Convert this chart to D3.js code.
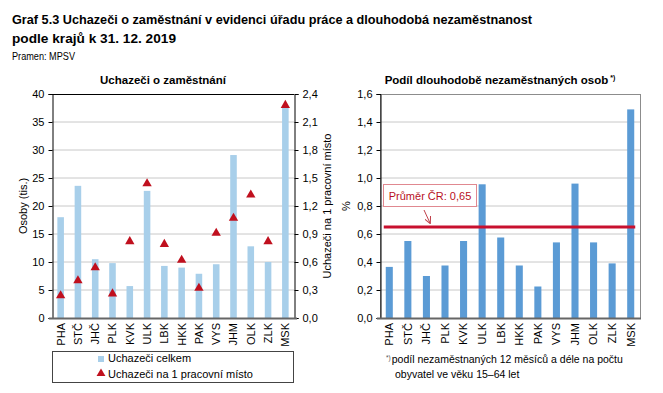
<!DOCTYPE html>
<html>
<head>
<meta charset="utf-8">
<script src="https://cdn.jsdelivr.net/npm/d3@7"></script>
<style>
  body { margin: 0; background: #fff; }
  svg { font-family: "Liberation Sans", Arial, sans-serif; }
  .tick text { font-size: 11px; fill: #000; }
</style>
</head>
<body>
<div id="chart"></div>
<script>
// regions (kraje)
var kraje = ["PHA", "STČ", "JHČ", "PLK", "KVK", "ULK", "LBK", "HKK", "PAK", "VYS", "JHM", "OLK", "ZLK", "MSK"];
// uchazeci celkem (tis.)
var uchazeci = [18.0, 23.6, 10.5, 9.8, 5.7, 22.7, 9.3, 9.0, 7.9, 9.6, 29.1, 12.8, 10.0, 37.5];
// uchazeci na 1 pracovni misto
var naMisto = [0.24, 0.40, 0.54, 0.26, 0.82, 1.44, 0.79, 0.62, 0.32, 0.91, 1.07, 1.32, 0.82, 2.28];
// podil dlouhodobe nezamestnanych (%)
var podil = [0.365, 0.55, 0.30, 0.375, 0.55, 0.955, 0.575, 0.375, 0.225, 0.54, 0.96, 0.54, 0.39, 1.49];
var prumer = 0.65;

var leftTicks = [0, 5, 10, 15, 20, 25, 30, 35, 40];
var rightTicks = [0, 0.3, 0.6, 0.9, 1.2, 1.5, 1.8, 2.1, 2.4];
var podilTicks = [0, 0.2, 0.4, 0.6, 0.8, 1.0, 1.2, 1.4, 1.6];

var width = 663, height = 393;
var comma1 = function(d) { return d3.format(".1f")(d).replace(".", ","); };

var svg = d3.select("#chart").append("svg")
  .attr("width", width)
  .attr("height", height);

// titles
svg.append("text")
  .attr("x", 12).attr("y", 24)
  .attr("font-size", 13.5).attr("font-weight", "bold")
  .attr("textLength", 520).attr("lengthAdjust", "spacingAndGlyphs")
  .text("Graf 5.3 Uchazeči o zaměstnání v evidenci úřadu práce a dlouhodobá nezaměstnanost");
svg.append("text")
  .attr("x", 12).attr("y", 43)
  .attr("font-size", 13.5).attr("font-weight", "bold")
  .attr("textLength", 164).attr("lengthAdjust", "spacingAndGlyphs")
  .text("podle krajů k 31. 12. 2019");
svg.append("text")
  .attr("x", 12).attr("y", 60)
  .attr("font-size", 10.5)
  .attr("textLength", 63).attr("lengthAdjust", "spacingAndGlyphs")
  .text("Pramen: MPSV");

// ---------- left chart ----------
var L = {left: 52, right: 294, top: 94, bottom: 318};

var x1 = d3.scaleBand().domain(kraje).range([L.left, L.right]).paddingInner(0.62).paddingOuter(0.31);
var y1 = d3.scaleLinear().domain([0, 40]).range([L.bottom, L.top]);
var y1r = d3.scaleLinear().domain([0, 2.4]).range([L.bottom, L.top]);

svg.append("text")
  .attr("x", 163).attr("y", 84)
  .attr("text-anchor", "middle")
  .attr("font-size", 11.5).attr("font-weight", "bold")
  .text("Uchazeči o zaměstnání");

var g1 = svg.append("g");

g1.selectAll(".grid")
  .data(leftTicks.filter(function(d) { return d > 0 && d < 40; }))
  .enter().append("line")
  .attr("x1", L.left).attr("x2", L.right)
  .attr("y1", function(d) { return y1(d); })
  .attr("y2", function(d) { return y1(d); })
  .attr("stroke", "#c8c8c8");

g1.selectAll(".bar")
  .data(uchazeci)
  .enter().append("rect")
  .attr("x", function(d, i) { return x1(kraje[i]); })
  .attr("width", x1.bandwidth())
  .attr("y", function(d) { return y1(d); })
  .attr("height", function(d) { return y1(0) - y1(d); })
  .attr("fill", "#a8cfea");

// plot frame
g1.append("line").attr("x1", L.left).attr("x2", L.right).attr("y1", L.top + 0.5).attr("y2", L.top + 0.5).attr("stroke", "#000");

var yAxisL = g1.append("g")
  .attr("transform", "translate(" + (L.left + 0.5) + ",0)")
  .call(d3.axisLeft(y1).tickValues(leftTicks).tickSize(4).tickPadding(4));
var yAxisR = g1.append("g")
  .attr("transform", "translate(" + (L.right + 0.5) + ",0)")
  .call(d3.axisRight(y1r).tickValues(rightTicks).tickSize(4).tickPadding(4).tickFormat(comma1));

g1.append("line").attr("x1", L.left - 3).attr("x2", L.right + 3)
  .attr("y1", L.bottom + 0.5).attr("y2", L.bottom + 0.5)
  .attr("stroke", "#666").attr("stroke-width", 2);

g1.selectAll(".tri")
  .data(naMisto)
  .enter().append("path")
  .attr("d", d3.symbol().type(d3.symbolTriangle).size(38))
  .attr("transform", function(d, i) {
    return "translate(" + (x1(kraje[i]) + x1.bandwidth() / 2) + "," + y1r(d) + ")";
  })
  .attr("fill", "#c0101e");

var xAxis1 = g1.append("g")
  .attr("transform", "translate(0," + L.bottom + ")")
  .call(d3.axisBottom(x1).tickSize(0).tickPadding(0));
xAxis1.select(".domain").remove();
xAxis1.selectAll("text")
  .attr("transform", "rotate(-90)")
  .attr("text-anchor", "end")
  .attr("x", -5).attr("y", 0).attr("dy", "0.35em");

svg.append("text")
  .attr("transform", "translate(27," + ((L.top + L.bottom) / 2) + ") rotate(-90)")
  .attr("text-anchor", "middle").attr("font-size", 11)
  .text("Osoby (tis.)");
svg.append("text")
  .attr("transform", "translate(331," + ((L.top + L.bottom) / 2) + ") rotate(-90)")
  .attr("text-anchor", "middle").attr("font-size", 11)
  .text("Uchazeči na 1 pracovní místo");

// legend
var leg = svg.append("g");
leg.append("rect")
  .attr("x", 52.5).attr("y", 351.5).attr("width", 241).attr("height", 31)
  .attr("fill", "#fff").attr("stroke", "#444");
leg.append("rect").attr("x", 98).attr("y", 356).attr("width", 6).attr("height", 6).attr("fill", "#a8cfea");
leg.append("text").attr("x", 108).attr("y", 362).attr("font-size", 11).text("Uchazeči celkem");
leg.append("path")
  .attr("d", d3.symbol().type(d3.symbolTriangle).size(34))
  .attr("transform", "translate(101,373.5)")
  .attr("fill", "#c0101e");
leg.append("text").attr("x", 108).attr("y", 378).attr("font-size", 11).text("Uchazeči na 1 pracovní místo");

// ---------- right chart ----------
var R = {left: 380, right: 640, top: 94, bottom: 318};
var x2 = d3.scaleBand().domain(kraje).range([R.left, R.right]).paddingInner(0.62).paddingOuter(0.31);
var y2 = d3.scaleLinear().domain([0, 1.6]).range([R.bottom, R.top]);

var podilTitle = svg.append("text")
  .attr("x", 500).attr("y", 84)
  .attr("text-anchor", "middle")
  .attr("font-size", 11.5).attr("font-weight", "bold");
podilTitle.append("tspan").text("Podíl dlouhodobě nezaměstnaných osob");
podilTitle.append("tspan").attr("font-size", 7).attr("dy", -4).attr("dx", 2).text("*)");

var g2 = svg.append("g");
g2.selectAll(".grid")
  .data(podilTicks.filter(function(d) { return d > 0 && d < 1.6; }))
  .enter().append("line")
  .attr("x1", R.left).attr("x2", R.right)
  .attr("y1", function(d) { return y2(d); })
  .attr("y2", function(d) { return y2(d); })
  .attr("stroke", "#c8c8c8");

g2.append("rect")
  .attr("x", R.left + 0.5).attr("y", R.top + 0.5)
  .attr("width", R.right - R.left).attr("height", R.bottom - R.top)
  .attr("fill", "none").attr("stroke", "#8c8c8c");

g2.selectAll(".bar")
  .data(podil)
  .enter().append("rect")
  .attr("x", function(d, i) { return x2(kraje[i]); })
  .attr("width", x2.bandwidth())
  .attr("y", function(d) { return y2(d); })
  .attr("height", function(d) { return y2(0) - y2(d); })
  .attr("fill", "#5b9bd5");

g2.append("g")
  .attr("transform", "translate(" + (R.left + 0.5) + ",0)")
  .call(d3.axisLeft(y2).tickValues(podilTicks).tickSize(4).tickPadding(4).tickFormat(comma1));

g2.append("line").attr("x1", R.left - 3).attr("x2", R.right + 1)
  .attr("y1", R.bottom + 0.5).attr("y2", R.bottom + 0.5)
  .attr("stroke", "#666").attr("stroke-width", 2);

// average line
g2.append("line")
  .attr("x1", x2(kraje[0]) - 2).attr("x2", x2(kraje[13]) + x2.bandwidth() + 1)
  .attr("y1", y2(prumer)).attr("y2", y2(prumer))
  .attr("stroke", "#c8102e").attr("stroke-width", 3);

g2.append("rect")
  .attr("x", 383.5).attr("y", 184.5).attr("width", 93).attr("height", 22)
  .attr("fill", "#fff").attr("stroke", "#e08890");
g2.append("text")
  .attr("x", 430).attr("y", 199.5).attr("text-anchor", "middle")
  .attr("font-size", 11).attr("fill", "#b8101e")
  .text("Průměr ČR: 0,65");

svg.append("defs").append("marker")
  .attr("id", "arr").attr("viewBox", "0 0 10 10")
  .attr("refX", 9).attr("refY", 5)
  .attr("markerWidth", 7).attr("markerHeight", 7)
  .attr("orient", "auto")
  .append("path").attr("d", "M0,0 L10,5 L0,10").attr("fill", "none").attr("stroke", "#c0404a").attr("stroke-width", 1.5);
g2.append("line")
  .attr("x1", 424).attr("y1", 210).attr("x2", 430).attr("y2", y2(prumer) - 4)
  .attr("stroke", "#c0404a").attr("stroke-width", 1)
  .attr("marker-end", "url(#arr)");

var xAxis2 = g2.append("g")
  .attr("transform", "translate(0," + R.bottom + ")")
  .call(d3.axisBottom(x2).tickSize(0).tickPadding(0));
xAxis2.select(".domain").remove();
xAxis2.selectAll("text")
  .attr("transform", "rotate(-90)")
  .attr("text-anchor", "end")
  .attr("x", -5).attr("y", 0).attr("dy", "0.35em");

svg.append("text")
  .attr("transform", "translate(350," + ((R.top + R.bottom) / 2) + ") rotate(-90)")
  .attr("text-anchor", "middle").attr("font-size", 11)
  .text("%");

// footnote
var fn = svg.append("text").attr("x", 386).attr("y", 363).attr("font-size", 10.5);
fn.append("tspan").attr("font-size", 6.5).attr("dy", -3).attr("fill", "#555").text("*)");
fn.append("tspan").attr("dy", 3).attr("dx", 1).text("podíl nezaměstnaných 12 měsíců a déle na počtu");
svg.append("text").attr("x", 395).attr("y", 378).attr("font-size", 10.5)
  .text("obyvatel ve věku 15–64 let");

// axis styling
svg.selectAll(".domain").attr("stroke", "#000");
svg.selectAll(".tick line").attr("stroke", "#000");
</script>
</body>
</html>
